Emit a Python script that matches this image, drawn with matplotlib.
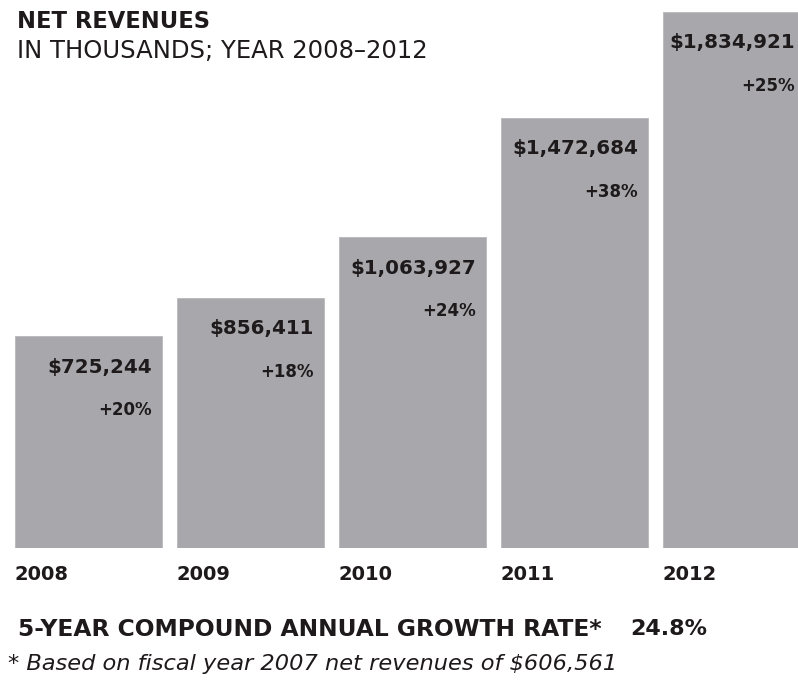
import matplotlib.pyplot as plt
import numpy as np

# Net revenues, in thousands of dollars
years = ["2008", "2009", "2010", "2011", "2012"]
revenues = [725244, 856411, 1063927, 1472684, 1834921]
growth = ["+20%", "+18%", "+24%", "+38%", "+25%"]

title = "NET REVENUES"
subtitle = "IN THOUSANDS; YEAR 2008\u20132012"
cagr_label = "5-YEAR COMPOUND ANNUAL GROWTH RATE*"
cagr_value = "24.8%"
footnote = "* Based on fiscal year 2007 net revenues of $606,561"

bar_color = "#a8a8ac"
ink = "#1e1a1b"

W, H = 798, 681
fig = plt.figure(figsize=(W / 100, H / 100), dpi=100)

# axes spans the full width; the last bar runs off the right edge
base_px = 133
ax = fig.add_axes([0, base_px / H, 1, (H - base_px) / H])
x = np.arange(len(years))
pitch = 162.0
left_px = 88.5
ax.set_xlim(-left_px / pitch, (W - left_px) / pitch)
ax.set_ylim(0, 1876000)
ax.axis("off")

width = 147 / pitch
bars = ax.bar(x, revenues, width=width, color=bar_color, edgecolor="#b8b8bb",
              linewidth=0.6)

for xi, val, g in zip(x, revenues, growth):
    right = xi + width / 2
    # keep labels on the last (cropped) bar inside the figure
    right_px = left_px + pitch * xi + 73.5
    dx = -max(10, right_px - (W - 3))
    ax.annotate(f"${val:,}", xy=(right, val), xytext=(dx, -31),
                textcoords="offset pixels", ha="right", va="center",
                fontsize=14.3, fontweight="bold", color=ink,
                annotation_clip=False)
    ax.annotate(g, xy=(right, val), xytext=(dx, -74),
                textcoords="offset pixels", ha="right", va="center",
                fontsize=12, fontweight="bold", color=ink,
                annotation_clip=False)
    # year label under the left edge of each bar
    ax.annotate(years[xi], xy=(xi - width / 2, 0), xytext=(0, -27),
                textcoords="offset pixels", ha="left", va="center",
                fontsize=14, fontweight="bold", color=ink,
                annotation_clip=False)

fig.text(17 / W, 1 - 22 / H, title, ha="left", va="center",
         fontsize=16.3, fontweight="bold", color=ink)
fig.text(17 / W, 1 - 51 / H, subtitle, ha="left", va="center",
         fontsize=17.5, color=ink)

fig.text(18 / W, 1 - 629 / H, cagr_label, ha="left", va="center",
         fontsize=16.8, fontweight="bold", color=ink)
fig.text(630 / W, 1 - 629 / H, cagr_value, ha="left", va="center",
         fontsize=16, fontweight="bold", color=ink)
fig.text(8 / W, 1 - 664 / H, footnote, ha="left", va="center",
         fontsize=16.2, style="italic", color=ink)

fig.savefig("out.png", dpi=100)
